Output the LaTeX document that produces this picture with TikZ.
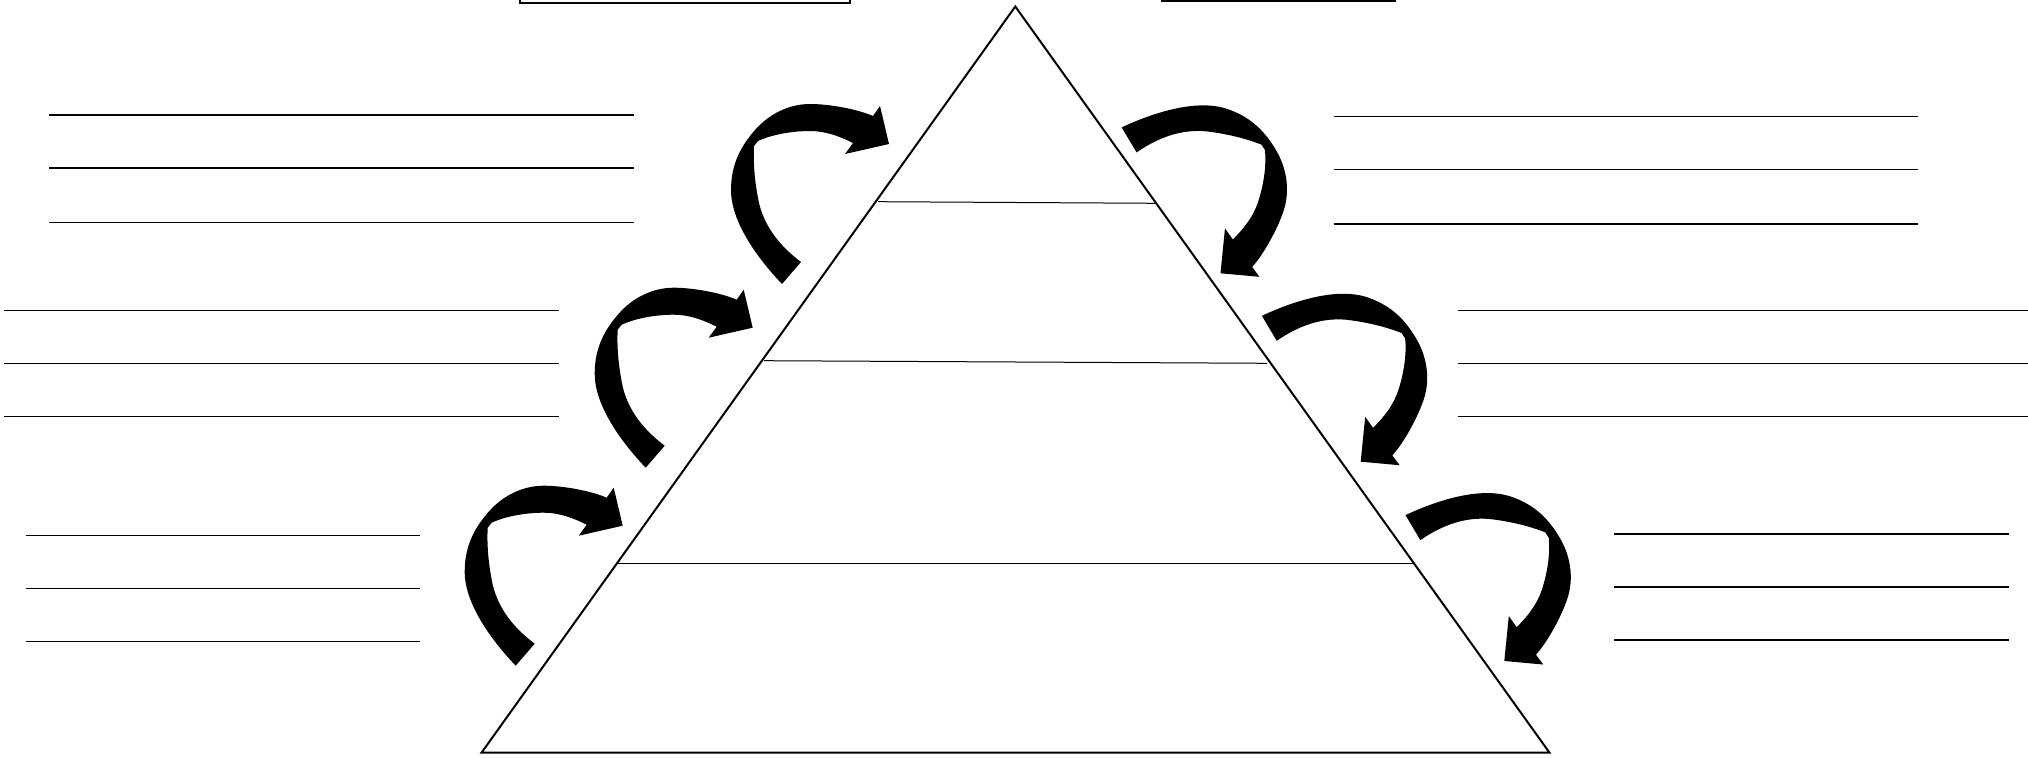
\documentclass[tikz,border=0pt]{standalone}
\usepackage{tikz}

\begin{document}
\begin{tikzpicture}[x=0.5pt, y=-0.5pt,
    rule/.style = {line width=.8pt},
    side/.style = {line width=1pt},
    cut/.style = {line width=.5pt},
    turn/.pic = {
      \fill (-107,140) .. controls (-128,118) and (-158,80) .. (-158,46)
        .. controls (-158,20) and (-148,2) .. (-134,-14)
        .. controls (-120,-30) and (-100,-40) .. (-79,-40)
        .. controls (-60,-40) and (-32,-35) .. (-16,-28)
        -- (-9,-38) -- (0,0) -- (-44,10) -- (-36,-1)
        .. controls (-50,-8) and (-64,-13) .. (-79,-13)
        .. controls (-95,-13) and (-116,-10) .. (-131,-3)
        -- (-135,2)
        .. controls (-136,20) and (-134,40) .. (-130,59)
        .. controls (-124,84) and (-108,103) .. (-88,118)
        -- cycle;
    }]
  \useasboundingbox (0,0) rectangle (2028,759);
  \clip (0,0) rectangle (2028,759);
  % title boxes
  \draw[side] (519.5,-20) rectangle (850,3);
  \draw[side] (1162,-20) rectangle (1395,1.5);
  % pyramid
  \coordinate (apex) at (1015.3,6.5);
  \coordinate (left) at (481.5,752.7);
  \coordinate (right) at (1549.5,752.7);
  \draw[side] (apex) -- (left) -- (right) -- cycle;
  \draw[cut] (878,201.7) -- (1155,203.3);
  \draw[cut] (764,360.7) -- (1267,363.3);
  \draw[cut] (617.5,563.5) -- (1415,563.5);
  % lines to write on
  \foreach \y in {115,168,222.5} \draw[rule] (49,\y) -- (634,\y);
  \foreach \y in {310.5,363.5,416.5} \draw[rule] (4,\y) -- (559,\y);
  \foreach \y in {535.5,588.5,641.5} \draw[rule] (26,\y) -- (420,\y);
  \foreach \y in {116.5,169.5,224} \draw[rule] (1333.5,\y) -- (1918,\y);
  \foreach \y in {310.5,363.5,416.5} \draw[rule] (1458,\y) -- (2028,\y);
  \foreach \y in {534,587,640} \draw[rule] (1614,\y) -- (2009,\y);
  % arrows
  \pic at (889,144) {turn};
  \pic at (752.7,327.7) {turn};
  \pic at (622.7,525.7) {turn};
  \pic[rotate=-108.5] at (1220.5,273.3) {turn};
  \pic[rotate=-108.5] at (1360.7,461.7) {turn};
  \pic[rotate=-108.5] at (1504.3,661) {turn};
\end{tikzpicture}
\end{document}
